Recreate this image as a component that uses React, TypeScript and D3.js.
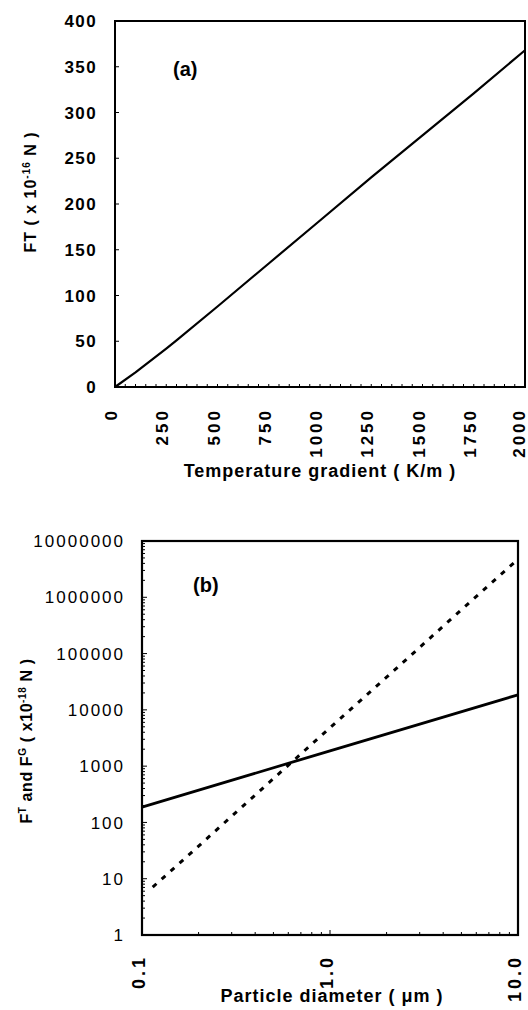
import React from 'react';
import * as d3 from 'd3';

// panel (a): thermophoretic force vs temperature gradient
const gradient = [0, 100, 250, 300, 500, 750, 1000, 1250, 1500, 1750, 2000];
const thermoForceA = [0, 16, 42, 51, 88, 135, 182, 229, 275, 321, 368];
const gradTicks = [0, 250, 500, 750, 1000, 1250, 1500, 1750, 2000];
const forceTicks = [0, 50, 100, 150, 200, 250, 300, 350, 400];

// panel (b): thermophoretic (solid) and gravity (dashed) force vs diameter
const diameterT = [0.1, 1, 10];
const thermoForceB = [187, 1870, 18500];
const diameterG = [0.114, 0.2, 0.5, 1, 2, 5, 9.6];
const gravForce = [7.1, 38, 600, 4800, 38000, 600000, 4200000];
const diamTicks = [0.1, 1, 10];
const diamLabels = ['0.1', '1.0', '10.0'];
const logForceTicks = [1, 10, 100, 1000, 10000, 100000, 1000000, 10000000];

const FONT = '"Liberation Sans", Arial, Helvetica, sans-serif';

const App = () => {
  const W = 528;
  const H = 1010;

  // ---- panel a
  const xA = d3.scaleLinear().domain([0, 2000]).range([115, 525]);
  const yA = d3.scaleLinear().domain([0, 400]).range([387, 21]);
  const lineA = d3.line<number>()
    .x((_, i) => xA(gradient[i]))
    .y(d => yA(d));
  const minorA = d3.range(0, 2001, 50);

  // ---- panel b
  const xB = d3.scaleLog().domain([0.1, 10]).range([142, 518]);
  const yB = d3.scaleLog().domain([1, 1e7]).range([935, 541]);
  const lineT = d3.line<number>()
    .x((_, i) => xB(diameterT[i]))
    .y(d => yB(d));
  const lineG = d3.line<number>()
    .x((_, i) => xB(diameterG[i]))
    .y(d => yB(d));
  const minorYB = yB.ticks();
  const minorXB = xB.ticks();

  const [a0, a1] = xA.range();
  const [aB, aT] = yA.range();
  const [b0, b1] = xB.range();
  const [bB, bT] = yB.range();

  return (
    <svg width={W} height={H} style={{ position: 'absolute', left: 0, top: 0, background: '#fff' }}
      fontFamily={FONT} fontWeight="bold" fill="#000">
      {/* ===== (a) ===== */}
      <g>
        {minorA.map(v => (
          <line key={'mx' + v} x1={xA(v)} x2={xA(v)} y1={aB} y2={aB - 3} stroke="#000" strokeWidth={1} />
        ))}
        {forceTicks.map(v => (
          <line key={'my' + v} x1={a0} x2={a0 + 4} y1={yA(v)} y2={yA(v)} stroke="#000" strokeWidth={1} />
        ))}
        <rect x={a0} y={aT} width={a1 - a0} height={aB - aT} fill="none" stroke="#000" strokeWidth={2} />
        <path d={lineA(thermoForceA) || ''} fill="none" stroke="#000" strokeWidth={2.2} strokeLinejoin="round" />
        {forceTicks.map(v => (
          <text key={'yl' + v} x={a0 - 18} y={yA(v)} dy="0.36em" textAnchor="end" fontSize={17} letterSpacing={1.4}>
            {v}
          </text>
        ))}
        {gradTicks.map(v => (
          <text key={'xl' + v} transform={`translate(${Math.min(xA(v) - 4, W - 9)},${aB + 21}) rotate(-90)`} dy="0.36em"
            textAnchor="end" fontSize={17} letterSpacing={3}>
            {v}
          </text>
        ))}
        <text x={(a0 + a1) / 2} y={477} textAnchor="middle" fontSize={18} letterSpacing={1}>
          Temperature gradient ( K/m )
        </text>
        <text transform={`translate(36,192) rotate(-90)`} textAnchor="middle" fontSize={16} letterSpacing={1}>
          FT ( x 10<tspan dy={-6} fontSize={10}>-16</tspan><tspan dy={6}> N )</tspan>
        </text>
        <text x={173} y={76} fontSize={20}>(a)</text>
      </g>

      {/* ===== (b) ===== */}
      <g>
        {minorYB.map((v, i) => {
          const major = logForceTicks.includes(v);
          return (
            <line key={'byt' + i} x1={b0} x2={b0 + (major ? 5 : 3)} y1={yB(v)} y2={yB(v)} stroke="#000" strokeWidth={1} />
          );
        })}
        {minorXB.map((v, i) => {
          const major = diamTicks.includes(v);
          return (
            <line key={'bxt' + i} x1={xB(v)} x2={xB(v)} y1={bB} y2={bB - (major ? 5 : 3)} stroke="#000" strokeWidth={1} />
          );
        })}
        <rect x={b0} y={bT} width={b1 - b0} height={bB - bT} fill="none" stroke="#000" strokeWidth={2.2} />
        <path d={lineT(thermoForceB) || ''} fill="none" stroke="#000" strokeWidth={2.8} />
        <path d={lineG(gravForce) || ''} fill="none" stroke="#000" strokeWidth={3} strokeDasharray="5 7" />
        {logForceTicks.map(v => (
          <text key={'byl' + v} x={b0 - 17} y={yB(v)} dy="0.36em" textAnchor="end" fontSize={17}
            fontWeight="normal" letterSpacing={2}>
            {v}
          </text>
        ))}
        {diamTicks.map((v, i) => (
          <text key={'bxl' + v} transform={`translate(${Math.min(xB(v) - 3, W - 9)},${bB + 20}) rotate(-90)`} dy="0.36em"
            textAnchor="end" fontSize={18} letterSpacing={3}>
            {diamLabels[i]}
          </text>
        ))}
        <text x={332} y={1002} textAnchor="middle" fontSize={18} letterSpacing={1}>
          Particle diameter ( {'\u03bc'}m )
        </text>
        <text transform={`translate(32,741) rotate(-90)`} textAnchor="middle" fontSize={16} letterSpacing={0.6}>
          F<tspan dy={-6} fontSize={10}>T</tspan>
          <tspan dy={6}> and F</tspan>
          <tspan dy={-6} fontSize={10}>G</tspan>
          <tspan dy={6}> ( x10</tspan>
          <tspan dy={-6} fontSize={10}>-18</tspan>
          <tspan dy={6}> N )</tspan>
        </text>
        <text x={193} y={592} fontSize={20}>(b)</text>
      </g>
    </svg>
  );
};

export default App;
